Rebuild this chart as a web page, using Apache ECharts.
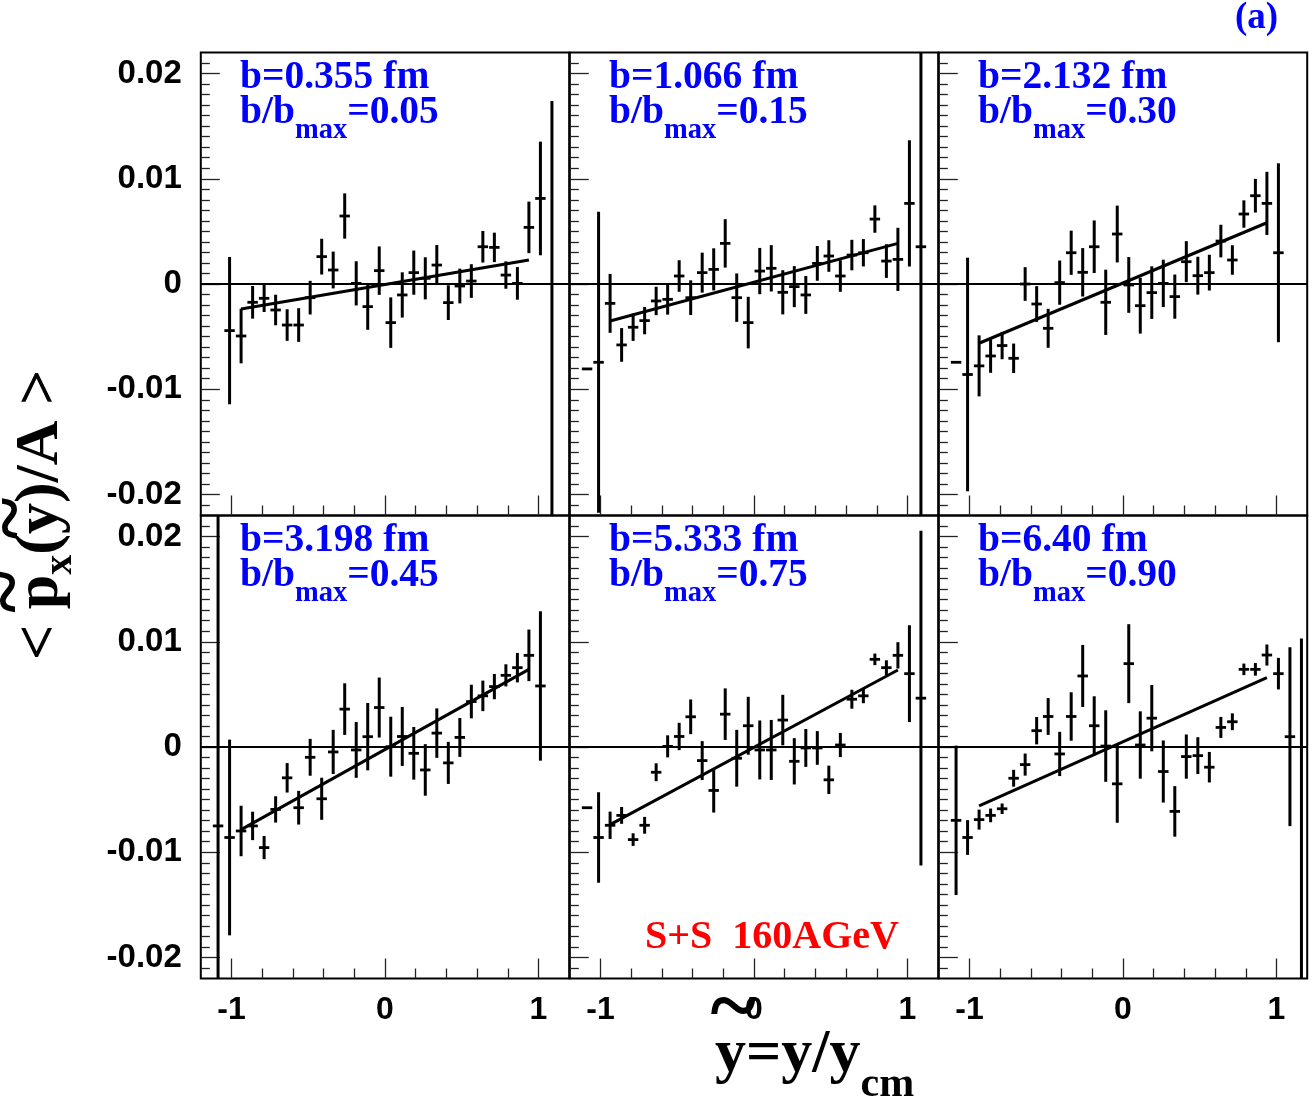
<!DOCTYPE html>
<html><head><meta charset="utf-8">
<script src="https://cdn.jsdelivr.net/npm/echarts@6/dist/echarts.min.js"></script>
<style>html,body{margin:0;padding:0;background:#fff}#c{width:1315px;height:1105px}</style>
</head><body><div id="c"></div>
<script>
// ---------------- DATA (y values and errors in units of 1e-3) ----------------
const binCenters = [-1.0875,-1.0125,-0.9375,-0.8625,-0.7875,-0.7125,-0.6375,-0.5625,-0.4875,-0.4125,-0.3375,-0.2625,-0.1875,-0.1125,-0.0375,0.0375,0.1125,0.1875,0.2625,0.3375,0.4125,0.4875,0.5625,0.6375,0.7125,0.7875,0.8625,0.9375,1.0125,1.0875,1.1625];

const p1Val = [null,-4.43,-4.94,-1.74,-1.36,-2.47,-3.9,-3.9,-1.3,2.6,1.33,6.46,0.06,-2.15,1.27,-3.67,-1.04,1.08,0.54,1.8,-1.77,-0.19,0.28,3.54,3.48,0.85,0.06,5.38,8.13,-25,null];
const p1Err = [null,7.0,2.6,1.55,1.3,1.45,1.5,1.6,1.6,1.7,1.75,2.15,2.1,2.2,2.3,2.4,2.15,2.1,2.0,1.9,1.65,1.65,1.6,1.5,1.4,1.3,1.55,2.45,5.4,42.4,null];

const p2Val = [-8.07,-7.44,-1.84,-5.79,-4.11,-3.48,-1.61,-1.46,0.76,-1.30,1.08,1.39,3.86,-1.30,-3.67,1.23,1.49,-0.79,-0.25,-1.04,1.96,2.66,0.76,2.75,2.97,6.17,2.18,2.34,7.66,3.54,null];
const p2Err = [0,14.3,2.8,1.6,1.3,1.3,1.35,1.45,1.5,1.65,1.9,2.0,2.3,2.3,2.45,2.2,2.2,2.1,1.95,1.8,1.65,1.5,1.5,1.45,1.3,1.3,1.6,3.0,6.0,27,null];

const p3Val = [-7.44,-8.6,-7.78,-6.84,-5.85,-7.06,0.0,-1.9,-4.21,0.13,2.97,1.11,3.54,-1.74,4.75,-0.09,-2.06,-0.82,0.06,-1.2,2.12,0.79,1.08,4.08,2.28,6.65,8.39,7.66,2.97,null,null];
const p3Err = [0,11.1,2.9,1.6,1.3,1.4,1.6,1.7,1.85,2.1,2.1,2.3,2.5,3.1,2.7,2.65,2.65,2.5,2.25,2.1,1.95,1.8,1.7,1.55,1.4,1.3,1.6,3.0,8.5,null,null];

const p4Val = [-7.5,-8.6,-7.98,-7.5,-9.56,-5.93,-2.93,-5.77,-0.98,-4.92,-0.47,3.6,-0.28,0.98,3.75,0.03,1.0,-0.6,-2.18,1.32,-1.51,0.91,4.32,4.86,5.74,6.81,7.54,8.71,5.8,null,null];
const p4Err = [30,9.3,2.4,1.35,1.1,1.25,1.4,1.6,1.75,2.0,2.1,2.45,2.65,3.2,2.85,2.85,2.8,2.5,2.45,2.35,2.0,1.85,1.6,1.45,1.2,1.05,1.4,2.45,7.1,null,null];

const p5Val = [-5.77,-8.6,-7.44,-6.5,-8.8,-7.44,-2.4,0.06,1.0,2.87,-1.29,-4.13,3.12,-1.07,2.02,-0.28,-0.28,2.56,-1.36,-0.09,-0.09,-3.12,0.19,4.54,4.86,8.33,7.54,8.71,6.97,4.64,null];
const p5Err = [0,4.3,1.3,0.8,0.6,0.8,0.85,1.05,1.3,1.65,1.85,2.1,2.45,2.7,2.75,2.8,2.85,2.4,2.2,1.8,1.6,1.35,1.15,0.9,0.7,0.55,0.7,1.25,4.6,15.9,null];

const p6Val = [-6.97,-8.6,-6.9,-6.5,-5.87,-2.97,-1.67,1.55,2.9,-0.66,2.9,6.75,2.02,0.09,-3.5,7.92,0.19,2.74,-2.33,-6.12,-0.91,-0.82,-1.92,1.86,2.4,7.38,7.38,8.74,6.97,0.98,-25];
const p6Err = [7.1,1.65,0.95,0.65,0.5,0.8,1.05,1.3,1.75,2.1,2.3,2.95,2.8,3.4,3.7,3.75,3.2,3.15,2.95,2.4,2.1,1.75,1.45,1.0,0.8,0.55,0.6,1.0,1.5,8.5,35.3];

// linear fits: endpoints
const fitX = [-0.9375, 0.9375];
const fit1 = [-2.37, 2.28];
const fit2 = [-3.51, 3.86];
const fit3 = [-5.63, 5.82];
const fit4 = [-7.85, 7.38];
const fit5 = [-7.38, 7.32];
const fit6 = [-5.6, 6.6];

const impactB = ['0.355', '1.066', '2.132', '3.198', '5.333', '6.40'];
const bRatio  = ['0.05', '0.15', '0.30', '0.45', '0.75', '0.90'];

const xTickLabels = [-1, 0, 1];
const yTickLabels = [-20, -10, 0, 10, 20];   // x 1e-3

// ---------------- LAYOUT ----------------
const panelVals = [p1Val, p2Val, p3Val, p4Val, p5Val, p6Val];
const panelErrs = [p1Err, p2Err, p3Err, p4Err, p5Err, p6Err];
const panelFits = [fit1, fit2, fit3, fit4, fit5, fit6];

const GL = [200.8, 569.8, 938.8], GW = 368.4;
const GT = [52.5, 515.5], GH = 463;
const HW = 0.034;

const xMinor = []; for (let v = -10; v <= 10; v += 2) if (v % 10) xMinor.push(v / 10);
const yMinor = []; for (let v = -21; v <= 21; v++) if (v % 10) yMinor.push(v);

const SERIF = '"Liberation Serif", "Times New Roman", serif';
const SANS = '"Liberation Sans", Arial, sans-serif';
const mctx = document.createElement('canvas').getContext('2d');
function tw(t, s) { mctx.font = 'bold ' + s + 'px ' + SERIF; return mctx.measureText(t).width; }

const grid = [], xAxis = [], yAxis = [], series = [], gfx = [];
const tickStyle = { color: '#222', width: 1.3 };
const noLine = { show: false, onZero: false };

for (let k = 0; k < 6; k++) {
  const col = k % 3, row = Math.floor(k / 3);
  grid.push({ left: GL[col], top: GT[row], width: GW, height: GH, show: true,
    borderColor: '#000', borderWidth: 2, backgroundColor: 'rgba(0,0,0,0)' });
  xAxis.push({ gridIndex: k, type: 'value', min: -1.2, max: 1.2, position: 'bottom',
    axisLine: noLine, splitLine: { show: false },
    axisTick: { show: true, inside: true, length: 20, customValues: xTickLabels, lineStyle: tickStyle },
    axisLabel: { show: row === 1, customValues: xTickLabels, margin: 16, fontFamily: SANS,
      fontWeight: 'bold', fontSize: 32, color: '#000', formatter: v => String(v) } });
  yAxis.push({ gridIndex: k, type: 'value', min: -22, max: 22, position: 'left',
    axisLine: noLine, splitLine: { show: false },
    axisTick: { show: true, inside: true, length: 19, customValues: yTickLabels, lineStyle: tickStyle },
    axisLabel: { show: col === 0, customValues: yTickLabels, margin: 19, fontFamily: SANS,
      fontWeight: 'bold', fontSize: 33, color: '#000',
      formatter: v => v === 0 ? '0' : (v / 1000).toFixed(2) } });

  const data = [];
  const vals = panelVals[k], errs = panelErrs[k];
  for (let i = 0; i < binCenters.length; i++) {
    if (vals[i] === null || vals[i] === undefined) continue;
    data.push([binCenters[i], vals[i], errs[i]]);
  }
  series.push({
    type: 'custom', xAxisIndex: k, yAxisIndex: k, data: data, z: 4, silent: true,
    encode: { x: 0, y: 1 },
    renderItem: function (params, api) {
      const x = api.value(0), y = api.value(1), e = api.value(2);
      const cs = params.coordSys;
      const clampY = v => Math.max(cs.y, Math.min(cs.y + cs.height, v));
      const pL = api.coord([x - HW, y]), pR = api.coord([x + HW, y]);
      const ch = [];
      if (pL[1] >= cs.y && pL[1] <= cs.y + cs.height)
        ch.push({ type: 'line', shape: { x1: pL[0], y1: pL[1], x2: pR[0], y2: pR[1] },
          style: { stroke: '#000', lineWidth: 2.8 } });
      if (e > 0) {
        const pT = api.coord([x, y + e]), pB = api.coord([x, y - e]);
        ch.push({ type: 'line', shape: { x1: pT[0], y1: clampY(pT[1]), x2: pB[0], y2: clampY(pB[1]) },
          style: { stroke: '#000', lineWidth: 3 } });
      }
      return { type: 'group', children: ch };
    }
  });
  const f = panelFits[k];
  series.push({
    type: 'line', xAxisIndex: k, yAxisIndex: k, z: 3, silent: true, symbol: 'none',
    data: [[fitX[0], f[0]], [fitX[1], f[1]]],
    lineStyle: { color: '#000', width: 3 },
    markLine: { silent: true, symbol: ['none', 'none'], label: { show: false },
      lineStyle: { color: '#000', width: 2, type: 'solid' }, data: [{ yAxis: 0 }] }
  });

  // panel labels
  const FS = 39.5, FSS = 28.5;
  const x0 = GL[col] + 39.2, b1 = GT[row] + 37.3, b2 = GT[row] + 72.5;
  const blue = '#0000ff';
  gfx.push({ type: 'text', x: x0, y: b1 - 0.305 * FS, style: { text: 'b=' + impactB[k] + ' fm',
    fontFamily: SERIF, fontWeight: 'bold', fontSize: FS, fill: blue, align: 'left', verticalAlign: 'middle' } });
  const w1 = tw('b/b', FS), w2 = tw('max', FSS);
  gfx.push({ type: 'text', x: x0, y: b2 - 0.305 * FS, style: { text: 'b/b',
    fontFamily: SERIF, fontWeight: 'bold', fontSize: FS, fill: blue, align: 'left', verticalAlign: 'middle' } });
  gfx.push({ type: 'text', x: x0 + w1, y: b2 + 14 - 0.305 * FSS, style: { text: 'max',
    fontFamily: SERIF, fontWeight: 'bold', fontSize: FSS, fill: blue, align: 'left', verticalAlign: 'middle' } });
  gfx.push({ type: 'text', x: x0 + w1 + w2, y: b2 - 0.305 * FS, style: { text: '=' + bRatio[k],
    fontFamily: SERIF, fontWeight: 'bold', fontSize: FS, fill: blue, align: 'left', verticalAlign: 'middle' } });
}
// minor-tick overlay grids
for (let k = 0; k < 6; k++) {
  const col = k % 3, row = Math.floor(k / 3);
  const gi = 6 + k;
  grid.push({ left: GL[col], top: GT[row], width: GW, height: GH, show: false });
  xAxis.push({ gridIndex: gi, type: 'value', min: -1.2, max: 1.2, position: 'bottom',
    axisLine: noLine, splitLine: { show: false }, axisLabel: { show: false },
    axisTick: { show: true, inside: true, length: 10, customValues: xMinor, lineStyle: tickStyle } });
  yAxis.push({ gridIndex: gi, type: 'value', min: -22, max: 22, position: 'left',
    axisLine: noLine, splitLine: { show: false }, axisLabel: { show: false },
    axisTick: { show: true, inside: true, length: 9, customValues: yMinor, lineStyle: tickStyle } });
}

// red label and (a)
gfx.push({ type: 'text', x: 645, y: 950 - 0.305 * 40, style: { text: 'S+S  160AGeV',
  fontFamily: SERIF, fontWeight: 'bold', fontSize: 40, fill: '#ff0000', align: 'left', verticalAlign: 'middle' } });
gfx.push({ type: 'text', x: 1235, y: 29.4 - 0.305 * 37, style: { text: '(a)',
  fontFamily: SERIF, fontWeight: 'bold', fontSize: 37, fill: '#0000ff', align: 'left', verticalAlign: 'middle' } });

// x axis title: ~y = y / y_cm
(function () {
  const fs = 62, fsS = 42, base = 1074, x0 = 715;
  const wy = tw('y', fs);
  const st = (t, s) => ({ text: t, fontFamily: SERIF, fontWeight: 'bold', fontSize: s, fill: '#000', align: 'left', verticalAlign: 'middle' });
  gfx.push({ type: 'text', x: x0, y: base - 0.305 * fs, style: st('y=y/y', fs) });
  gfx.push({ type: 'text', x: x0 + tw('y=y/y', fs), y: base + 24 - 0.305 * fsS, style: st('cm', fsS) });
  gfx.push({ type: 'text', x: x0 + wy / 2 + 3, y: 1012, style: Object.assign(st('~', 88), { align: 'center' }) });
})();

// y axis title (rotated): < ~p_x(~y)/A >
(function () {
  const fs = 62, fsS = 40;
  const st = (t, s) => ({ text: t, fontFamily: SERIF, fontWeight: 'bold', fontSize: s, fill: '#000', align: 'left', verticalAlign: 'middle' });
  const lxP = tw('< ', fs), wp = tw('p', fs);
  const lxX = tw('< p', fs);
  const lxR = lxX + tw('x', fsS);
  const lxY = lxR + tw('(', fs), wy = tw('y', fs);
  const ch = [
    { type: 'text', x: 0, y: -0.305 * fs, style: st('< p', fs) },
    { type: 'text', x: lxX, y: 13 - 0.305 * fsS, style: st('x', fsS) },
    { type: 'text', x: lxR, y: -0.305 * fs, style: st('(y)/A >', fs) },
    { type: 'text', x: lxP + wp / 2, y: -47, style: Object.assign(st('~', 80), { align: 'center' }) },
    { type: 'text', x: lxY + wy / 2, y: -45, style: Object.assign(st('~', 80), { align: 'center' }) }
  ];
  gfx.push({ type: 'group', x: 60, y: 660, rotation: Math.PI / 2, children: ch });
})();

const chart = echarts.init(document.getElementById('c'), null, { renderer: 'canvas' });
chart.setOption({
  animation: false,
  backgroundColor: '#fff',
  grid: grid, xAxis: xAxis, yAxis: yAxis, series: series,
  graphic: { elements: gfx }
});
</script>
</body></html>
